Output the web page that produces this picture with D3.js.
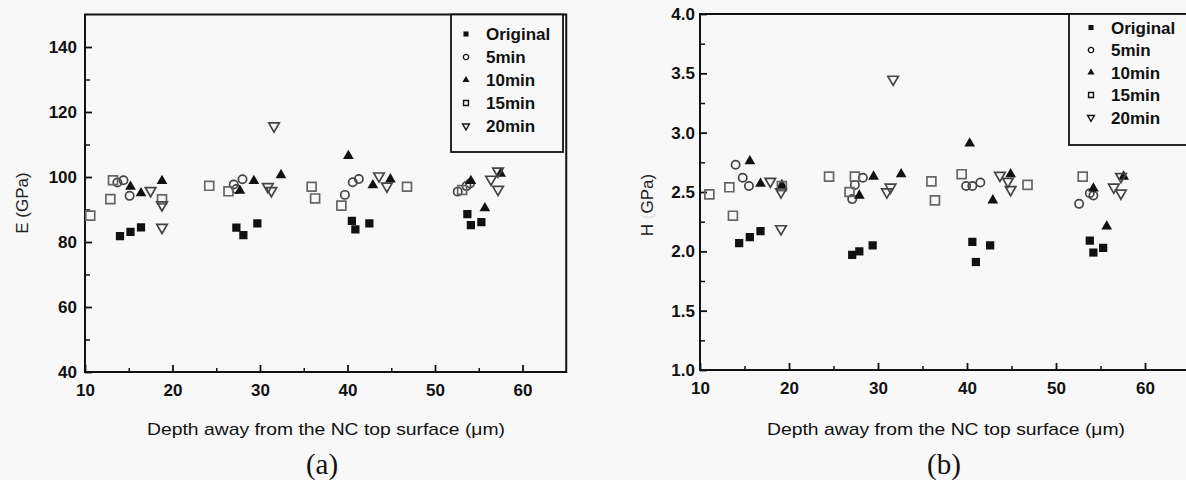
<!DOCTYPE html>
<html lang="en">
<head>
<meta charset="UTF-8">
<title>E and H vs depth</title>
<script src="https://cdnjs.cloudflare.com/ajax/libs/d3/7.8.5/d3.min.js"></script>
<style>
  body { margin: 0; background: #f8f8f8; }
  svg { display: block; font-family: "Liberation Sans", Arial, sans-serif; }
  .tick text { font-family: "Liberation Sans", Arial, sans-serif; font-weight: bold; font-size: 17px; fill: #111; }
  .axis path, .axis line { stroke: #111; }
</style>
</head>
<body>
<script>
// ---- data ----
var seriesNames = ["Original", "5min", "10min", "15min", "20min"];
var depthTicks = [10, 20, 30, 40, 50, 60];
var eTicks = [40, 60, 80, 100, 120, 140];
var hTicks = [1.0, 1.5, 2.0, 2.5, 3.0, 3.5, 4.0];

// (a) modulus E (GPa)
var eOriginal = [[14.0,81.8],[15.2,83.1],[16.4,84.5],[27.3,84.4],[28.1,82.1],[29.7,85.7],
                 [40.5,86.5],[40.9,83.9],[42.5,85.7],[53.7,88.6],[54.1,85.2],[55.3,86.1]];
var e5min = [[13.7,98.3],[14.4,99.0],[15.1,94.2],[27.0,97.7],[27.3,96.3],[28.0,99.3],
             [39.7,94.5],[40.6,98.4],[41.3,99.4],[52.6,95.5],[53.6,97.2],[54.0,98.0]];
var e10min = [[15.2,97.0],[16.4,95.0],[18.8,98.8],[27.7,95.8],[29.3,98.8],[32.4,100.6],
              [40.1,106.5],[42.9,97.5],[44.9,99.3],[54.1,98.8],[55.7,90.4],[57.5,101.0]];
var e15min = [[10.6,88.1],[12.9,93.2],[13.2,99.0],[18.8,93.1],[24.2,97.3],[26.4,95.6],
              [35.9,97.0],[36.3,93.4],[39.3,91.2],[46.8,97.0],[53.1,96.0]];
var e20min = [[17.5,95.8],[18.8,91.4],[18.8,84.5],[30.9,97.0],[31.3,95.8],[31.6,115.7],
              [43.6,100.3],[44.5,97.2],[56.4,99.3],[57.2,101.8],[57.2,96.2]];

// (b) hardness H (GPa)
var hOriginal = [[14.4,2.07],[15.6,2.12],[16.8,2.17],[27.1,1.97],[27.9,2.00],[29.4,2.05],
                 [40.6,2.08],[41.0,1.91],[42.6,2.05],[53.8,2.09],[54.2,1.99],[55.3,2.03]];
var h5min = [[14.0,2.73],[14.8,2.62],[15.5,2.55],[27.1,2.44],[27.4,2.56],[28.3,2.62],
             [39.9,2.55],[40.6,2.55],[41.5,2.58],[52.6,2.40],[53.8,2.49],[54.2,2.47]];
var h10min = [[15.6,2.76],[16.8,2.57],[19.2,2.56],[27.9,2.47],[29.5,2.63],[32.6,2.65],
              [40.3,2.91],[42.9,2.43],[44.9,2.65],[54.2,2.53],[55.7,2.21],[57.6,2.63]];
var h15min = [[11.05,2.48],[13.3,2.54],[13.7,2.30],[19.2,2.55],[24.5,2.63],[26.8,2.50],
              [27.4,2.63],[36.0,2.59],[36.4,2.43],[39.4,2.65],[46.8,2.56],[53.0,2.63]];
var h20min = [[17.9,2.59],[19.1,2.50],[19.1,2.19],[31.0,2.50],[31.4,2.54],[31.7,3.45],
              [43.7,2.64],[44.6,2.59],[44.9,2.52],[56.5,2.54],[57.3,2.49],[57.3,2.63]];

// ---- marker styles per series ----
var markers = [
  {type: d3.symbolSquare,   size: 68, legendSize: 26, fill: "#111", stroke: "none", flip: false},
  {type: d3.symbolCircle,   size: 54, legendSize: 22, fill: "none", stroke: "#444", flip: false},
  {type: d3.symbolTriangle, size: 50, legendSize: 22, fill: "#111", stroke: "none", flip: false},
  {type: d3.symbolSquare,   size: 80, legendSize: 24, fill: "none", stroke: "#666", flip: false},
  {type: d3.symbolTriangle, size: 48, legendSize: 20, fill: "none", stroke: "#444", flip: true}
];

var svg = d3.select("body").append("svg")
    .attr("width", 1186)
    .attr("height", 480);

svg.append("rect").attr("width", 1186).attr("height", 480).attr("fill", "#f8f8f8");

// strip d3's default axis font so the css one applies
function plainAxis(s) {
  s.attr("font-family", null).attr("font-size", null);
  s.select(".domain").remove();
}

function drawPanel(p) {
  var x = d3.scaleLinear().domain([10, 65]).range([p.left, p.left + 55 * p.xStep]);
  var y = d3.scaleLinear().domain(p.yDomain).range([p.bottom, p.top]);
  var g = svg.append("g");

  var clipId = "clip-" + p.id;
  g.append("clipPath").attr("id", clipId)
    .append("rect")
    .attr("x", x.range()[0]).attr("y", p.top)
    .attr("width", x.range()[1] - x.range()[0]).attr("height", p.bottom - p.top);

  // minor ticks
  g.append("g").attr("class", "axis")
    .attr("transform", "translate(0," + p.bottom + ")")
    .call(d3.axisBottom(x).tickValues(p.xMinor).tickSizeInner(-4).tickSizeOuter(0).tickFormat(""))
    .call(plainAxis)
    .selectAll("line").attr("stroke-width", 1.5);
  g.append("g").attr("class", "axis")
    .attr("transform", "translate(" + p.left + ",0)")
    .call(d3.axisLeft(y).tickValues(p.yMinor).tickSizeInner(-5).tickSizeOuter(0).tickFormat(""))
    .call(plainAxis)
    .selectAll("line").attr("stroke-width", 1.5);

  // major ticks + labels
  g.append("g").attr("class", "axis")
    .attr("transform", "translate(0," + p.bottom + ")")
    .call(d3.axisBottom(x).tickValues(depthTicks).tickSizeInner(-7).tickSizeOuter(0).tickPadding(12).tickFormat(d3.format("d")))
    .call(plainAxis)
    .selectAll("line").attr("stroke-width", 1.8);
  g.append("g").attr("class", "axis")
    .attr("transform", "translate(" + p.left + ",0)")
    .call(d3.axisLeft(y).tickValues(p.yTicks).tickSizeInner(-7).tickSizeOuter(0).tickPadding(p.yPad).tickFormat(p.yFormat))
    .call(plainAxis)
    .selectAll("line").attr("stroke-width", 1.8);

  // frame
  g.append("rect")
    .attr("x", x.range()[0]).attr("y", p.top)
    .attr("width", x.range()[1] - x.range()[0]).attr("height", p.bottom - p.top)
    .attr("fill", "none").attr("stroke", "#111").attr("stroke-width", 2);

  // points
  var pts = g.append("g").attr("clip-path", "url(#" + clipId + ")");
  p.series.forEach(function(data, i) {
    var m = markers[i];
    pts.selectAll(".s" + i)
      .data(data)
      .enter().append("path")
      .attr("class", "s" + i)
      .attr("d", d3.symbol().type(m.type).size(m.size))
      .attr("transform", function(d) {
        return "translate(" + x(d[0]) + "," + y(d[1]) + ")" + (m.flip ? " rotate(180)" : "");
      })
      .attr("fill", m.fill)
      .attr("stroke", m.stroke)
      .attr("stroke-width", 1.7);
  });

  // legend
  var lg = g.append("g");
  lg.append("rect")
    .attr("x", p.legend.x).attr("y", p.top)
    .attr("width", p.legend.w).attr("height", p.legend.bottom - p.top)
    .attr("fill", "#f8f8f8").attr("stroke", "#111").attr("stroke-width", 1.8);
  seriesNames.forEach(function(name, i) {
    var m = markers[i];
    var cy = p.legend.y0 + i * p.legend.dy;
    lg.append("path")
      .attr("d", d3.symbol().type(m.type).size(m.legendSize))
      .attr("transform", "translate(" + p.legend.mx + "," + cy + ")" + (m.flip ? " rotate(180)" : ""))
      .attr("fill", m.fill === "none" ? "none" : "#111")
      .attr("stroke", m.fill === "none" ? "#111" : "none")
      .attr("stroke-width", 1.4);
    lg.append("text")
      .attr("x", p.legend.tx).attr("y", cy + 6)
      .style("font-size", "17px").style("font-weight", "bold").style("fill", "#111")
      .text(name);
  });

  // y title
  var yt = g.append("text")
    .attr("transform", "translate(" + p.yTitleX + "," + p.yTitleY + ") rotate(-90)")
    .attr("text-anchor", "middle")
    .style("font-size", "17px").style("fill", "#222");
  p.yTitle(yt);

  // x title
  g.append("text")
    .attr("x", p.xTitleX).attr("y", 435)
    .attr("text-anchor", "middle")
    .attr("textLength", 358).attr("lengthAdjust", "spacingAndGlyphs")
    .style("font-size", "17px").style("fill", "#111")
    .text("Depth away from the NC top surface (\u03bcm)");

  // panel letter
  g.append("text")
    .attr("x", p.letterX).attr("y", 474)
    .attr("text-anchor", "middle")
    .style("font-family", "'Liberation Serif', 'Times New Roman', serif")
    .style("font-size", "29px").style("fill", "#111")
    .text(p.letter);
}

drawPanel({
  id: "a", left: 85, xStep: 8.75, top: 14.5, bottom: 372, yDomain: [40, 150],
  yTicks: eTicks, yMinor: [50, 70, 90, 110, 130], yFormat: d3.format("d"), yPad: 8,
  xMinor: [15, 25, 35, 45, 55],
  series: [eOriginal, e5min, e10min, e15min, e20min],
  legend: {x: 451, w: 112, bottom: 152, y0: 34, dy: 23, mx: 466, tx: 486},
  yTitleX: 28, yTitleY: 203,
  yTitle: function(t) { t.text("E (GPa)"); },
  xTitleX: 326, letterX: 322, letter: "(a)"
});

drawPanel({
  id: "b", left: 700, xStep: 8.9, top: 14, bottom: 370, yDomain: [1, 4],
  yTicks: hTicks, yMinor: [1.25, 1.75, 2.25, 2.75, 3.25, 3.75], yFormat: d3.format(".1f"), yPad: 5,
  xMinor: [15, 25, 35, 45, 55],
  series: [hOriginal, h5min, h10min, h15min, h20min],
  legend: {x: 1069, w: 140, bottom: 145, y0: 27.5, dy: 22.5, mx: 1091, tx: 1111},
  yTitleX: 653, yTitleY: 205,
  yTitle: function(t) {
    t.append("tspan").text("H ");
    t.append("tspan").style("fill", "#e4e4e4").text("(");
    t.append("tspan").text("GPa)");
  },
  xTitleX: 946, letterX: 944, letter: "(b)"
});
</script>
</body>
</html>
